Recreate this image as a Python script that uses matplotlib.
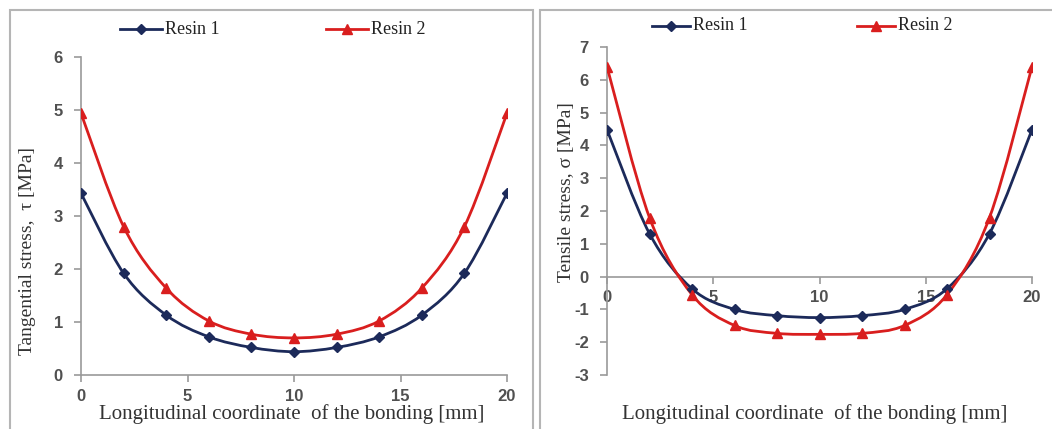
import matplotlib
matplotlib.use("Agg")
import matplotlib.pyplot as plt
import numpy as np
from matplotlib.path import Path
from matplotlib.patches import PathPatch, Rectangle
from matplotlib.lines import Line2D

plt.rcParams["axes.unicode_minus"] = False

# ---- data ----
x_mm = [0, 2, 4, 6, 8, 10, 12, 14, 16, 18, 20]
tau_resin1 = [3.43, 1.92, 1.13, 0.72, 0.52, 0.44, 0.52, 0.72, 1.13, 1.92, 3.43]
tau_resin2 = [4.94, 2.80, 1.64, 1.02, 0.77, 0.70, 0.77, 1.02, 1.64, 2.80, 4.94]
sig_resin1 = [4.48, 1.31, -0.37, -1.00, -1.19, -1.25, -1.19, -1.00, -0.37, 1.31, 4.48]
sig_resin2 = [6.40, 1.80, -0.55, -1.49, -1.73, -1.76, -1.73, -1.49, -0.55, 1.80, 6.40]
series_names = ["Resin 1", "Resin 2"]
xticks = [0, 5, 10, 15, 20]
left_yticks = [0, 1, 2, 3, 4, 5, 6]
right_yticks = [-3, -2, -1, 0, 1, 2, 3, 4, 5, 6, 7]
xlabel = "Longitudinal coordinate  of the bonding [mm]"
left_ylabel = "Tangential stress,  τ [MPa]"
right_ylabel = "Tensile stress, σ [MPa]"

C1 = "#1c2a5a"
C2 = "#d91e1e"
GRAY = "#9a9a9a"
TICKC = "#505050"
SERIF = ["Liberation Serif", "DejaVu Serif"]

W, H = 1052, 429
fig = plt.figure(figsize=(W / 100, H / 100), dpi=100)


def smooth_path(xs, ys):
    """Excel-like smoothed line via cubic Bezier segments."""
    pts = np.column_stack([xs, ys]).astype(float)
    n = len(pts)
    verts = [pts[0]]
    codes = [Path.MOVETO]
    for i in range(n - 1):
        p0 = pts[i - 1] if i > 0 else pts[i]
        p1 = pts[i]
        p2 = pts[i + 1]
        p3 = pts[i + 2] if i + 2 < n else pts[i + 1]
        c1 = p1 + (p2 - p0) / 6.0
        c2 = p2 - (p3 - p1) / 6.0
        verts += [c1, c2, p2]
        codes += [Path.CURVE4] * 3
    return Path(verts, codes)


def px_axes(x0, x1, y0, y1):
    return fig.add_axes([x0 / W, 1 - y1 / H, (x1 - x0) / W, (y1 - y0) / H])


def style_axes(ax, yticks, ylim, zero_spine=False):
    ax.set_xlim(0, 20)
    ax.set_ylim(*ylim)
    ax.set_xticks(xticks)
    ax.set_yticks(yticks)
    for s in ["top", "right"]:
        ax.spines[s].set_visible(False)
    for s in ["left", "bottom"]:
        ax.spines[s].set_color(GRAY)
        ax.spines[s].set_linewidth(1.2)
    if zero_spine:
        ax.spines["bottom"].set_position(("data", 0))
    ax.tick_params(axis="both", colors=GRAY, length=5, width=1.2,
                   labelcolor=TICKC, labelsize=12)
    ax.tick_params(axis="x", pad=5)
    ax.tick_params(axis="y", pad=8)
    for lab in ax.get_xticklabels() + ax.get_yticklabels():
        lab.set_fontfamily(["Liberation Sans", "DejaVu Sans"])
        lab.set_fontweight("bold")


def draw_series(ax, ys, color, marker, ms):
    ax.add_patch(PathPatch(smooth_path(x_mm, ys), facecolor="none",
                           edgecolor=color, lw=2.0, zorder=3))
    ax.plot(x_mm, ys, linestyle="none", marker=marker, color=color,
            markersize=ms, zorder=4)


def legend(fig_xs, y):
    specs = [(C1, "D", 5.5), (C2, "^", 7)]
    for (lx0, lx1), (c, m, ms), name in zip(fig_xs, specs, series_names):
        fig.add_artist(Line2D([lx0 / W, lx1 / W], [1 - y / H, 1 - y / H],
                              color=c, lw=2.0, transform=fig.transFigure))
        fig.add_artist(Line2D([(lx0 + lx1) / 2 / W], [1 - y / H], marker=m,
                              color=c, markersize=ms, linestyle="none",
                              transform=fig.transFigure))
        fig.text((lx1 + 3) / W, 1 - y / H, name, fontsize=13, family=SERIF,
                 color="#222222", va="center", ha="left")


# panel borders
fig.add_artist(Rectangle((10 / W, -0.05), (533 - 10) / W, 1 - 10 / H + 0.05,
                         transform=fig.transFigure, fill=False,
                         edgecolor="#b5b5b5", lw=1.5))
fig.add_artist(Rectangle((540 / W, -0.05), (1060 - 540) / W, 1 - 10 / H + 0.05,
                         transform=fig.transFigure, fill=False,
                         edgecolor="#b5b5b5", lw=1.5))

# ---- left panel ----
axL = px_axes(81, 507, 57, 375)
style_axes(axL, left_yticks, (0, 6))
draw_series(axL, tau_resin1, C1, "D", 5.5)
draw_series(axL, tau_resin2, C2, "^", 7)
fig.text(292 / W, 1 - 414 / H, xlabel, fontsize=15, family=SERIF,
         color="#333333", ha="center", va="center")
fig.text(28 / W, 1 - 251 / H, left_ylabel, fontsize=14, family=SERIF,
         color="#333333", ha="center", va="center", rotation=90)
legend([(120, 162), (326, 368)], 29)

# ---- right panel ----
axR = px_axes(607, 1032, 47, 375)
style_axes(axR, right_yticks, (-3, 7), zero_spine=True)
draw_series(axR, sig_resin1, C1, "D", 5.5)
draw_series(axR, sig_resin2, C2, "^", 7)
fig.text(815 / W, 1 - 414 / H, xlabel, fontsize=15, family=SERIF,
         color="#333333", ha="center", va="center")
fig.text(567 / W, 1 - 192 / H, right_ylabel, fontsize=14, family=SERIF,
         color="#333333", ha="center", va="center", rotation=90)
legend([(652, 690), (857, 895)], 26)

fig.savefig("out.png", dpi=100)
